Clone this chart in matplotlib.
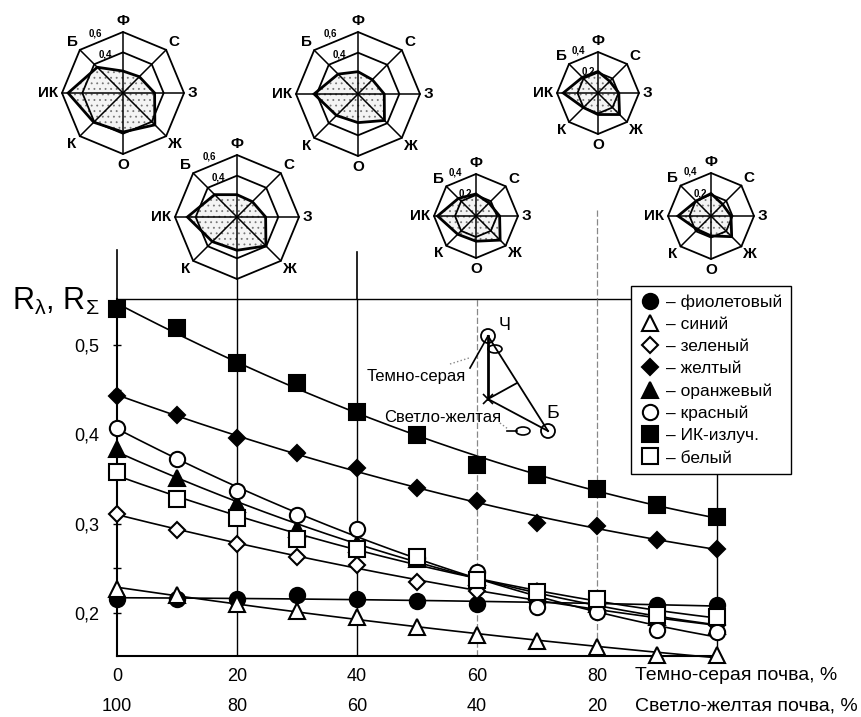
import numpy as np
import matplotlib
matplotlib.use('Agg')
import matplotlib.pyplot as plt
from matplotlib.patches import Polygon, Ellipse, Circle
from matplotlib.lines import Line2D

plt.rcParams['font.family'] = ['Liberation Sans', 'DejaVu Sans']
plt.rcParams['mathtext.fontset'] = 'custom'
plt.rcParams['mathtext.rm'] = 'Liberation Sans'
plt.rcParams['mathtext.it'] = 'Liberation Sans'
plt.rcParams['hatch.linewidth'] = 0.6

# доля темно-серой почвы, %
dark = [0, 10, 20, 30, 40, 50, 60, 70, 80, 90, 100]
light_labels = ['100', '80', '60', '40', '20']
dark_labels = ['0', '20', '40', '60', '80']

# коэффициенты отражения по цветам
fiolet = [0.216, 0.216, 0.216, 0.220, 0.216, 0.213, 0.210, 0.212, 0.210, 0.209, 0.209]
siniy = [0.227, 0.220, 0.210, 0.202, 0.196, 0.184, 0.175, 0.169, 0.162, 0.153, 0.153]
zelen = [0.311, 0.293, 0.277, 0.263, 0.254, 0.235, 0.225, 0.215, 0.203, 0.195, 0.186]
zhelt = [0.443, 0.422, 0.396, 0.379, 0.362, 0.340, 0.325, 0.301, 0.297, 0.282, 0.272]
oranzh = [0.384, 0.351, 0.322, 0.294, 0.277, 0.260, 0.240, 0.225, 0.210, 0.195, 0.185]
krasn = [0.407, 0.372, 0.337, 0.310, 0.294, 0.262, 0.246, 0.207, 0.201, 0.181, 0.179]
ik = [0.540, 0.519, 0.480, 0.457, 0.425, 0.399, 0.366, 0.354, 0.339, 0.321, 0.307]
bel = [0.358, 0.328, 0.306, 0.283, 0.272, 0.263, 0.237, 0.224, 0.216, 0.198, 0.196]

names = ['фиолетовый', 'синий', 'зеленый', 'желтый', 'оранжевый', 'красный', 'ИК-излуч.', 'белый']
series = [fiolet, siniy, zelen, zhelt, oranzh, krasn, ik, bel]
axis_names = ['Ф', 'С', 'З', 'Ж', 'О', 'К', 'ИК', 'Б']

# маркеры: (символ, размер, закрашен)
styles = [('o', 11, True), ('^', 11, False), ('D', 8.5, False), ('D', 8.5, True),
          ('^', 11, True), ('o', 11, False), ('s', 11, True), ('s', 11, False)]

fig = plt.figure(figsize=(8.61, 7.17), dpi=100)
ax = fig.add_axes([117/861, 61/717, 603/861, 357/717])
ax.set_xlim(0, 100.5)
ax.set_ylim(0.1518, 0.5515)

xf = np.linspace(0, 100, 200)
for ys in series:
    coef = np.polyfit(dark, ys, 2)
    ax.plot(xf, np.polyval(coef, xf), color='k', lw=1.2, zorder=2, clip_on=False)

for i, (ys, (m, ms, filled)) in enumerate(zip(series, styles)):
    ax.plot(dark, ys, ls='none', marker=m, ms=ms, mfc='k' if filled else 'w',
            mec='k', mew=1.5, zorder=3 + i, clip_on=False)

# вертикальные линии сетки
ax.axvline(20, color='k', lw=1, zorder=1)
ax.axvline(40, color='k', lw=1, zorder=1)
ax.axvline(60, color='#888888', lw=0.9, ls=(0, (5, 2)), zorder=1)
ax.axvline(80, color='#888888', lw=0.9, ls=(0, (5, 2)), zorder=1)
ax.axvline(100, color='k', lw=1, zorder=1)

ax.spines['right'].set_visible(False)
ax.spines['left'].set_linewidth(1.5)
ax.spines['bottom'].set_linewidth(1.5)
ax.spines['top'].set_linewidth(1.0)

ax.set_xticks([])
ax.set_yticks([0.2, 0.3, 0.4, 0.5])
ax.set_yticklabels(['0,2', '0,3', '0,4', '0,5'], fontsize=13)
ax.set_yticks([0.25, 0.35, 0.45], minor=True)
ax.tick_params(axis='y', which='both', direction='inout', length=6, width=1, pad=10)

tr = ax.get_xaxis_transform()
for v, lab in zip([0, 20, 40, 60, 80], dark_labels):
    ax.text(v, -0.058, lab, transform=tr, ha='center', va='center', fontsize=13)
for v, lab in zip([0, 20, 40, 60, 80], light_labels):
    ax.text(v, -0.142, lab, transform=tr, ha='center', va='center', fontsize=13)
ax.text(86.3, -0.056, 'Темно-серая почва, %', transform=tr, ha='left', va='center', fontsize=14)
ax.text(86.3, -0.14, 'Светло-желтая почва, %', transform=tr, ha='left', va='center', fontsize=14)

handles = [Line2D([], [], ls='none', marker=m, ms=ms, mfc='k' if f else 'w', mec='k', mew=1.5)
           for m, ms, f in styles]
leg = ax.legend(handles, ['– ' + n for n in names], loc='upper left',
                bbox_to_anchor=(631/861, 1 - 286/717), bbox_transform=fig.transFigure,
                fancybox=False, edgecolor='k', framealpha=1, borderaxespad=0,
                fontsize=12.5, labelspacing=0.4, handletextpad=0.3, handlelength=1.2,
                borderpad=0.5)
leg.get_frame().set_linewidth(1.0)
leg.set_zorder(20)

# оверлей в пиксельных координатах для лепестковых диаграмм и схемы
ov = fig.add_axes([0, 0, 1, 1])
ov.set_xlim(0, 861)
ov.set_ylim(717, 0)
ov.axis('off')
ov.patch.set_visible(False)

fig.text(12/861, 1 - 301/717, r'R$_{\lambda}$, R$_{\Sigma}$', fontsize=22, va='center', ha='left')

# продолжения вертикальных линий вверх
ov.plot([117, 117], [250, 299], color='k', lw=1.2)
ov.plot([237, 237], [278, 299], color='k', lw=1)
ov.plot([357, 357], [252, 299], color='k', lw=1.2)
ov.plot([597, 597], [210, 299], color='#888888', lw=0.9, ls=(0, (5, 2)))

ang = np.deg2rad(90 - 45 * np.arange(8))

# (индекс точки, центр x, центр y, радиус, кольца)
radars = [(0, 123, 93, 61, (0.4, 0.6)), (2, 237, 217, 62, (0.4, 0.6)),
          (4, 358, 94, 62, (0.4, 0.6)), (6, 476, 216, 42, (0.2, 0.4)),
          (8, 598, 93, 41, (0.2, 0.4)), (10, 711, 216, 43, (0.2, 0.4))]

for idx, cx, cy, rad, rings in radars:
    sc = rad / rings[1]
    vals = np.array([s[idx] for s in series])
    px = cx + vals * sc * np.cos(ang)
    py = cy - vals * sc * np.sin(ang)
    ov.add_patch(Polygon(np.c_[px, py], closed=True, facecolor='#f4f4f4',
                         hatch='...', edgecolor='#777777', lw=0, zorder=2))
    ov.add_patch(Polygon(np.c_[px, py], closed=True, fill=False,
                         edgecolor='k', lw=2, zorder=4))
    for ring in rings:
        rx = cx + ring * sc * np.cos(ang)
        ry = cy - ring * sc * np.sin(ang)
        ov.add_patch(Polygon(np.c_[rx, ry], closed=True, fill=False,
                             edgecolor='k', lw=1.3, zorder=3))
    for a in ang:
        ov.plot([cx, cx + rad * np.cos(a)], [cy, cy - rad * np.sin(a)],
                color='k', lw=1.1, zorder=3)
    for a, lab in zip(ang, axis_names):
        if lab == 'О' and idx == 2:
            continue
        if lab == 'З':
            ov.text(cx + rad + 4, cy, lab, ha='left', va='center',
                    fontsize=11, fontweight='bold')
        elif lab == 'ИК':
            ov.text(cx - rad - 4, cy, lab, ha='right', va='center',
                    fontsize=11, fontweight='bold')
        else:
            d = rad + 11
            ov.text(cx + d * np.cos(a), cy - d * np.sin(a), lab, ha='center',
                    va='center', fontsize=11, fontweight='bold')
    a_l = np.deg2rad(115)
    for ring, extra in zip(rings, (5, 9)):
        d = ring * sc * 0.924 + extra
        ov.text(cx + d * np.cos(a_l), cy - d * np.sin(a_l),
                ('%.1f' % ring).replace('.', ','), ha='center', va='center',
                fontsize=7, fontweight='bold')

# схема треугольника Ч-Б
ch = (488, 336)
bb = (548, 431)
st = (488, 399)
ov.plot([ch[0], st[0]], [ch[1], st[1]], color='k', lw=2)
ov.plot([ch[0], bb[0]], [ch[1], bb[1]], color='k', lw=1.3)
ov.plot([st[0], bb[0]], [st[1], bb[1]], color='k', lw=1.3)
ov.plot([st[0], 517], [st[1], 383], color='k', lw=1.3)
ov.plot([ch[0], 470], [ch[1], 368], color='k', lw=1.2)
ov.plot([450, 469], [364, 358], color='#888888', lw=1, ls=':')
ov.plot([500, 508], [423, 429], color='#888888', lw=1, ls=':')
ov.plot([507, 517], [431, 431], color='k', lw=1.2)
ov.plot(st[0], st[1], marker='x', color='k', ms=7, mew=1.2)
ov.add_patch(Circle(ch, 7, fill=False, edgecolor='k', lw=1.3, zorder=5))
ov.add_patch(Circle(bb, 7, fill=False, edgecolor='k', lw=1.3, zorder=5))
ov.add_patch(Ellipse((495, 349), 14, 8, fill=False, edgecolor='k', lw=1.2))
ov.add_patch(Ellipse((523, 431), 14, 8, fill=False, edgecolor='k', lw=1.2))
ov.text(505, 326, 'Ч', fontsize=13, ha='center', va='center')
ov.text(553, 413, 'Б', fontsize=14, ha='center', va='center')
ov.text(367, 377, 'Темно-серая', fontsize=12, ha='left', va='center')
ov.text(384, 417, 'Светло-желтая', fontsize=12, ha='left', va='center')

fig.savefig('out.png', dpi=100)
